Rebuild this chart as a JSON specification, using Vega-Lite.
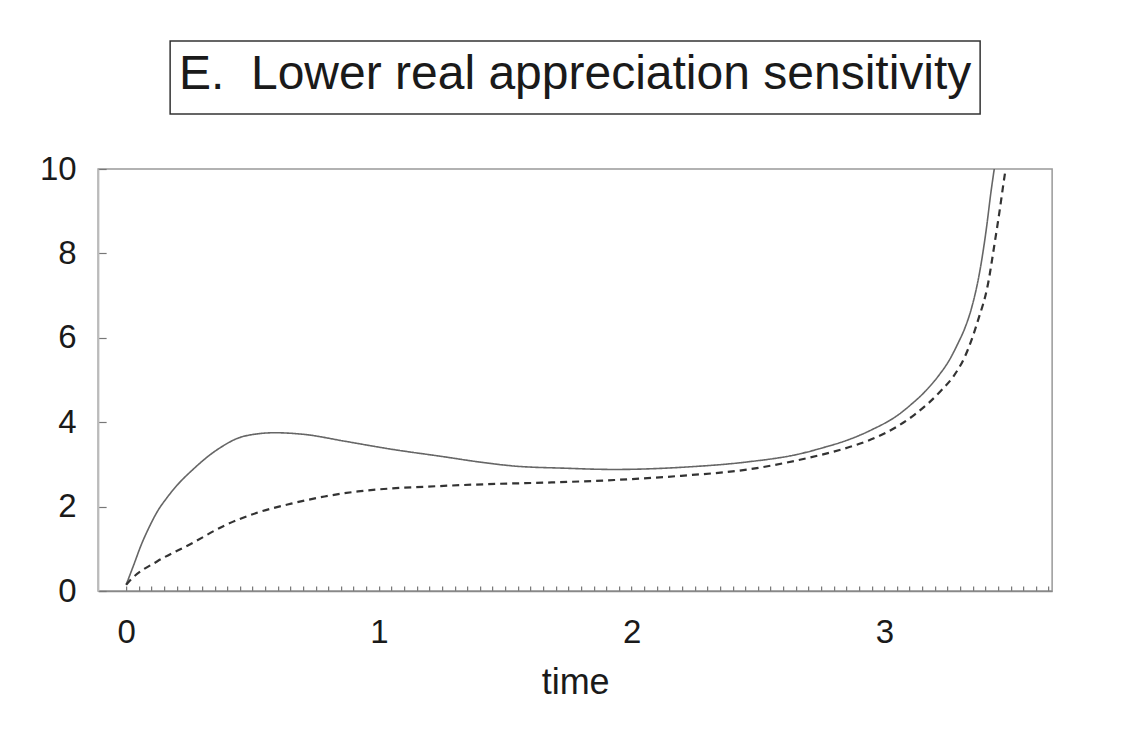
{
  "$schema": "https://vega.github.io/schema/vega-lite/v6.json",
  "padding": {"left": 38, "top": 40, "right": 0, "bottom": 0},
  "background": "white",
  "config": {"view": {"stroke": null}, "font": "Liberation Sans"},
  "spacing": 37,
  "center": true,
  "vconcat": [
    {
      "width": 810,
      "height": 73,
      "view": {"stroke": "#333", "strokeWidth": 1.5},
      "data": {"values": [{"label": "E.\u00a0 Lower real appreciation sensitivity"}]},
      "mark": {"type": "text", "fontSize": 48, "color": "#1a1a1a", "baseline": "middle", "dy": -3},
      "encoding": {
        "text": {"field": "label"},
        "y": {"field": "label", "type": "nominal", "axis": {"labels": false, "ticks": false, "domain": false, "title": null, "minExtent": 81}}
      }
    },
    {
      "width": 954,
      "height": 422,
      "view": {"stroke": "#999", "strokeWidth": 1.5},
      "data": {"values": [
        {"series": "upper", "t": 0, "v": 0.15},
        {"series": "upper", "t": 0.03, "v": 0.62},
        {"series": "upper", "t": 0.06, "v": 1.1},
        {"series": "upper", "t": 0.09, "v": 1.5},
        {"series": "upper", "t": 0.125, "v": 1.9},
        {"series": "upper", "t": 0.16, "v": 2.2},
        {"series": "upper", "t": 0.205, "v": 2.53},
        {"series": "upper", "t": 0.257, "v": 2.84},
        {"series": "upper", "t": 0.363, "v": 3.36},
        {"series": "upper", "t": 0.468, "v": 3.67},
        {"series": "upper", "t": 0.587, "v": 3.75},
        {"series": "upper", "t": 0.706, "v": 3.71},
        {"series": "upper", "t": 0.864, "v": 3.55},
        {"series": "upper", "t": 1.049, "v": 3.36},
        {"series": "upper", "t": 1.247, "v": 3.19},
        {"series": "upper", "t": 1.418, "v": 3.04},
        {"series": "upper", "t": 1.537, "v": 2.96},
        {"series": "upper", "t": 1.735, "v": 2.91},
        {"series": "upper", "t": 1.932, "v": 2.88},
        {"series": "upper", "t": 2.223, "v": 2.94},
        {"series": "upper", "t": 2.46, "v": 3.06},
        {"series": "upper", "t": 2.658, "v": 3.24},
        {"series": "upper", "t": 2.76, "v": 3.4},
        {"series": "upper", "t": 2.856, "v": 3.58},
        {"series": "upper", "t": 2.95, "v": 3.82},
        {"series": "upper", "t": 3.054, "v": 4.17},
        {"series": "upper", "t": 3.106, "v": 4.42},
        {"series": "upper", "t": 3.16, "v": 4.72},
        {"series": "upper", "t": 3.212, "v": 5.08},
        {"series": "upper", "t": 3.26, "v": 5.5},
        {"series": "upper", "t": 3.29, "v": 5.85},
        {"series": "upper", "t": 3.32, "v": 6.25},
        {"series": "upper", "t": 3.344, "v": 6.68},
        {"series": "upper", "t": 3.377, "v": 7.55},
        {"series": "upper", "t": 3.403, "v": 8.55},
        {"series": "upper", "t": 3.423, "v": 9.5},
        {"series": "upper", "t": 3.435, "v": 10},
        {"series": "lower", "t": 0, "v": 0.15},
        {"series": "lower", "t": 0.02, "v": 0.28},
        {"series": "lower", "t": 0.125, "v": 0.71},
        {"series": "lower", "t": 0.257, "v": 1.12},
        {"series": "lower", "t": 0.389, "v": 1.55},
        {"series": "lower", "t": 0.521, "v": 1.86},
        {"series": "lower", "t": 0.653, "v": 2.07},
        {"series": "lower", "t": 0.785, "v": 2.24},
        {"series": "lower", "t": 0.917, "v": 2.36},
        {"series": "lower", "t": 1.049, "v": 2.43},
        {"series": "lower", "t": 1.18, "v": 2.47},
        {"series": "lower", "t": 1.418, "v": 2.53},
        {"series": "lower", "t": 1.668, "v": 2.57},
        {"series": "lower", "t": 1.932, "v": 2.63},
        {"series": "lower", "t": 2.196, "v": 2.73},
        {"series": "lower", "t": 2.46, "v": 2.88},
        {"series": "lower", "t": 2.658, "v": 3.1},
        {"series": "lower", "t": 2.856, "v": 3.4},
        {"series": "lower", "t": 2.935, "v": 3.56},
        {"series": "lower", "t": 3.054, "v": 3.91},
        {"series": "lower", "t": 3.12, "v": 4.18},
        {"series": "lower", "t": 3.225, "v": 4.75},
        {"series": "lower", "t": 3.275, "v": 5.1},
        {"series": "lower", "t": 3.317, "v": 5.53},
        {"series": "lower", "t": 3.37, "v": 6.4},
        {"series": "lower", "t": 3.41, "v": 7.27},
        {"series": "lower", "t": 3.436, "v": 8.22},
        {"series": "lower", "t": 3.456, "v": 9.0},
        {"series": "lower", "t": 3.473, "v": 9.72},
        {"series": "lower", "t": 3.48, "v": 10}
      ]},
      "mark": {"type": "line", "interpolate": "monotone", "clip": true},
      "encoding": {
        "x": {
          "field": "t", "type": "quantitative",
          "scale": {"domain": [-0.111, 3.664], "nice": false, "zero": false},
          "axis": {
            "values": [0,0.05,0.1,0.15,0.2,0.25,0.3,0.35,0.4,0.45,0.5,0.55,0.6,0.65,0.7,0.75,0.8,0.85,0.9,0.95,1,1.05,1.1,1.15,1.2,1.25,1.3,1.35,1.4,1.45,1.5,1.55,1.6,1.65,1.7,1.75,1.8,1.85,1.9,1.95,2,2.05,2.1,2.15,2.2,2.25,2.3,2.35,2.4,2.45,2.5,2.55,2.6,2.65,2.7,2.75,2.8,2.85,2.9,2.95,3,3.05,3.1,3.15,3.2,3.25,3.3,3.35,3.4,3.45,3.5,3.55,3.6,3.65],
            "labelExpr": "datum.value % 1 == 0 ? format(datum.value, 'd') : ''",
            "labelOverlap": false,
            "labelFlush": false,
            "labelFontSize": 33,
            "labelColor": "#1a1a1a",
            "labelPadding": 30,
            "tickSize": -5,
            "tickColor": "#777",
            "tickWidth": 1.2,
            "domainColor": "#888",
            "domainWidth": 1.5,
            "grid": false,
            "title": "time",
            "titleFontSize": 36,
            "titleFontWeight": "normal",
            "titleColor": "#1a1a1a",
            "titlePadding": 16
          }
        },
        "y": {
          "field": "v", "type": "quantitative",
          "scale": {"domain": [0, 10], "nice": false, "zero": false},
          "axis": {
            "values": [0, 2, 4, 6, 8, 10],
            "labelFontSize": 33,
            "labelColor": "#1a1a1a",
            "labelPadding": 30,
            "tickSize": -8,
            "tickColor": "#777",
            "tickWidth": 1.2,
            "domainColor": "#bbb",
            "domainWidth": 1.5,
            "grid": false,
            "title": null,
            "minExtent": 59
          }
        },
        "color": {"field": "series", "type": "nominal", "scale": {"domain": ["upper", "lower"], "range": ["#666666", "#333333"]}, "legend": null},
        "strokeDash": {"field": "series", "type": "nominal", "scale": {"domain": ["upper", "lower"], "range": [[1, 0], [7, 5]]}, "legend": null},
        "strokeWidth": {"field": "series", "type": "nominal", "scale": {"domain": ["upper", "lower"], "range": [1.6, 2.2]}, "legend": null}
      }
    }
  ]
}
